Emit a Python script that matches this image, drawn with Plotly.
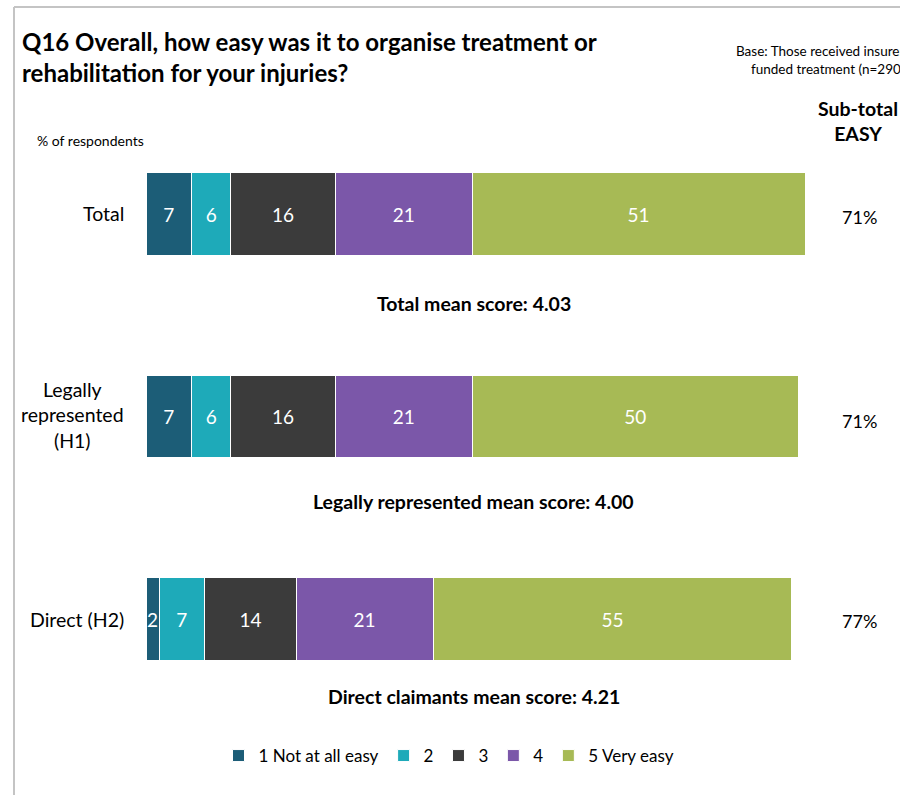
import plotly.graph_objects as go

W, H = 900, 795

categories = ["Total", "Legally<br>represented<br>(H1)", "Direct (H2)"]
series_names = ["1 Not at all easy", "2", "3", "4", "5 Very easy"]
s1 = [7, 7, 2]
s2 = [6, 6, 7]
s3 = [16, 16, 14]
s4 = [21, 21, 21]
s5 = [51, 50, 55]
subtotal_easy = ["71%", "71%", "77%"]
mean_scores = ["Total mean score: 4.03",
               "Legally represented mean score: 4.00",
               "Direct claimants mean score: 4.21"]
colors = ["#1c5d77", "#1eaab9", "#3b3b3b", "#7b57a9", "#a7ba55"]

FONT = "Lato, 'Open Sans', sans-serif"

def px(x):
    return x / W

def py(y):
    return 1 - y / H

fig = go.Figure()
for name, vals, col in zip(series_names, [s1, s2, s3, s4, s5], colors):
    fig.add_trace(go.Bar(
        y=categories, x=vals, name=name, orientation="h",
        marker=dict(color=col, line=dict(color="white", width=1)),
        text=[str(v) for v in vals], textposition="inside",
        insidetextanchor="middle", constraintext="none",
        textfont=dict(color="white", size=19, family=FONT),
        hoverinfo="skip",
    ))

# plot area geometry
x0p, x1p = 146, 805
ytop, ybot = 112.75, 720.25

fig.update_layout(
    width=W, height=H, barmode="stack", bargap=0.595,
    margin=dict(l=0, r=0, t=0, b=0),
    paper_bgcolor="white", plot_bgcolor="white",
    font=dict(family=FONT, color="black"),
    xaxis=dict(domain=[px(x0p), px(x1p)], range=[0, 101], visible=False, fixedrange=True),
    yaxis=dict(domain=[py(ybot), py(ytop)], range=[2.5, -0.5], showticklabels=False,
               showgrid=False, zeroline=False, showline=False, fixedrange=True),
    showlegend=True,
    legend=dict(orientation="h", x=px(449), xanchor="center", y=py(756), yanchor="middle",
                font=dict(size=17, family=FONT), traceorder="normal",
                itemwidth=30, bgcolor="rgba(0,0,0,0)"),
)

ann = []
# title
ann.append(dict(x=px(20), y=py(57), xref="paper", yref="paper", xanchor="left", yanchor="middle",
                align="left", showarrow=False,
                text="<b>Q16 Overall, how easy was it to organise treatment or<br>rehabilitation for your injuries?</b>",
                font=dict(size=24, family=FONT)))
# base note (clipped at right, as in the source)
ann.append(dict(x=px(906), y=py(60), xref="paper", yref="paper", xanchor="right", yanchor="middle",
                align="right", showarrow=False,
                text="Base: Those received insurer<br>funded treatment (n=290)",
                font=dict(size=13.5, family=FONT)))
# sub-total header
ann.append(dict(x=px(858), y=py(121), xref="paper", yref="paper", xanchor="center", yanchor="middle",
                align="center", showarrow=False, text="<b>Sub-total<br>EASY</b>",
                font=dict(size=19.5, family=FONT)))
ann.append(dict(x=px(35), y=py(141), xref="paper", yref="paper", xanchor="left", yanchor="middle",
                showarrow=False, text="% of respondents", font=dict(size=14, family=FONT)))

label_y = [214, 415, 619]
for cat, yy in zip(categories, label_y):
    ann.append(dict(x=px(126), y=py(yy), xref="paper", yref="paper", xanchor="right", yanchor="middle",
                    align="center", showarrow=False, text=cat, font=dict(size=19.5, family=FONT)))

sub_y = [217, 421, 621]
for s, yy in zip(subtotal_easy, sub_y):
    ann.append(dict(x=px(859), y=py(yy), xref="paper", yref="paper", xanchor="center", yanchor="middle",
                    showarrow=False, text=s, font=dict(size=18, family=FONT)))

mean_y = [303, 501, 696]
for m, yy in zip(mean_scores, mean_y):
    ann.append(dict(x=px(474), y=py(yy), xref="paper", yref="paper", xanchor="center", yanchor="middle",
                    showarrow=False, text="<b>" + m + "</b>", font=dict(size=19.5, family=FONT)))

fig.update_layout(annotations=ann)

# outer frame lines (top and left)
fig.add_shape(type="line", xref="paper", yref="paper", x0=px(14), x1=1.0, y0=py(7), y1=py(7),
              line=dict(color="#c4c4c4", width=2))
fig.add_shape(type="line", xref="paper", yref="paper", x0=px(14), x1=px(14), y0=py(7), y1=0,
              line=dict(color="#c4c4c4", width=2))

fig.write_html("out.html")
